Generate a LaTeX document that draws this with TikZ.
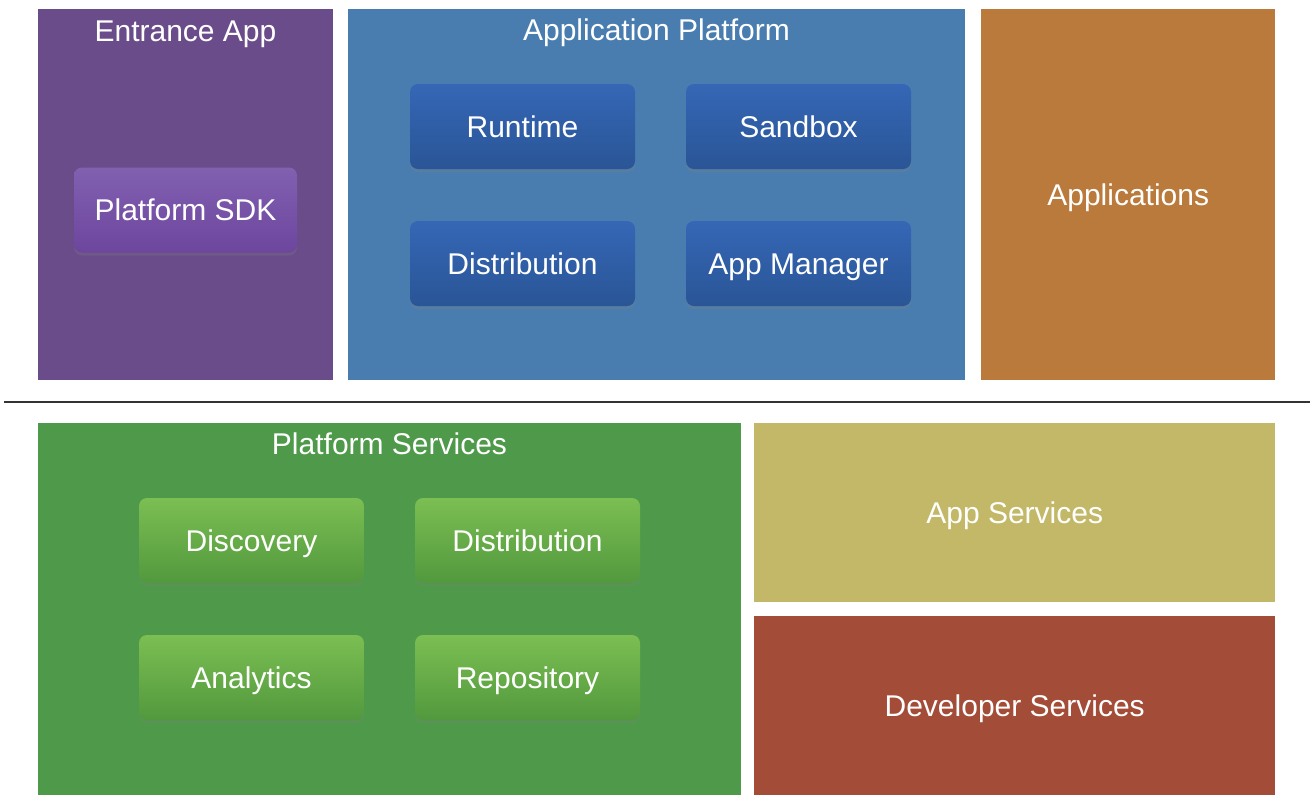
\documentclass[tikz,border=0pt]{standalone}
\usepackage{fontspec}
\setmainfont{Liberation Sans}
\usetikzlibrary{shadows}

\definecolor{entrancebg}{HTML}{6A4C8A}
\definecolor{platformbg}{HTML}{4A7DAF}
\definecolor{appsbg}{HTML}{B97A3B}
\definecolor{servicesbg}{HTML}{4F9A4A}
\definecolor{appservbg}{HTML}{C3B867}
\definecolor{devservbg}{HTML}{A34C38}
\definecolor{sdktop}{HTML}{8160B0}
\definecolor{sdkbot}{HTML}{6D469E}
\definecolor{bluetop}{HTML}{3567B6}
\definecolor{bluebot}{HTML}{2A5596}
\definecolor{greentop}{HTML}{7BBE52}
\definecolor{greenbot}{HTML}{52993E}
\definecolor{seprule}{HTML}{333333}

\tikzset{
  label font/.style={text=white, font=\fontsize{30}{35}\selectfont,
    text height=21.5pt, text depth=0pt},
  panel/.style={draw=none, inner sep=0pt, anchor=north west, label font},
  title/.style={inner sep=0pt, label font},
  tile/.style={draw=none, rounded corners=8pt, minimum width=225, minimum height=85,
    inner sep=0pt, label font,
    drop shadow={opacity=0.25, shadow xshift=0pt, shadow yshift=-3pt}},
  sdktile/.style={tile, top color=sdktop, bottom color=sdkbot},
  bluetile/.style={tile, top color=bluetop, bottom color=bluebot},
  greentile/.style={tile, top color=greentop, bottom color=greenbot}
}

\begin{document}
\begin{tikzpicture}[x=1pt, y=-1pt]

\useasboundingbox[fill=white] (0,0) rectangle (1315,807);

% top row
\node[panel, fill=entrancebg, minimum width=295, minimum height=371] (entrance) at (38,9) {};
\node[title] (entrancetitle) at (185.5,31) {Entrance App};
\node[sdktile, minimum width=223] (sdk) at (185.5,210) {Platform SDK};

\node[panel, fill=platformbg, minimum width=617, minimum height=371] (platform) at (348,9) {};
\node[title] (platformtitle) at (656.5,30) {Application Platform};
\node[bluetile] (runtime) at (522.5,126.5) {Runtime};
\node[bluetile] (sandbox) at (798.5,126.5) {Sandbox};
\node[bluetile] (distrib) at (522.5,263.5) {Distribution};
\node[bluetile] (appmgr) at (798.5,263.5) {App Manager};

\node[panel, fill=appsbg, minimum width=294, minimum height=371] (apps) at (981,9) {Applications};

% separator
\coordinate (sepleft) at (4,402);
\coordinate (sepright) at (1310,402);
\draw[seprule, line width=1.5pt] (sepleft) -- (sepright);

% bottom row
\node[panel, fill=servicesbg, minimum width=703, minimum height=372] (services) at (38,423) {};
\node[title] (servicestitle) at (389.5,444) {Platform Services};
\node[greentile] (discovery) at (251.5,540.5) {Discovery};
\node[greentile] (svcdistrib) at (527.5,540.5) {Distribution};
\node[greentile] (analytics) at (251.5,677.5) {Analytics};
\node[greentile] (repository) at (527.5,677.5) {Repository};

\node[panel, fill=appservbg, minimum width=521, minimum height=179] (appserv) at (754,423) {App Services};
\node[panel, fill=devservbg, minimum width=521, minimum height=179] (devserv) at (754,616) {Developer Services};

\end{tikzpicture}
\end{document}
